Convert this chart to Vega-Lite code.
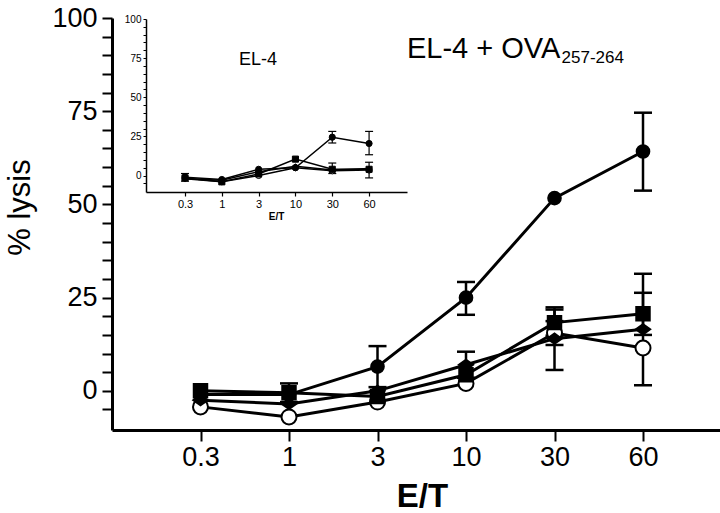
{
  "$schema": "https://vega.github.io/schema/vega-lite/v6.json",
  "width": 608,
  "height": 412,
  "autosize": {"type": "none"},
  "padding": {"left": 112, "top": 18, "right": 0, "bottom": 83},
  "background": "white",
  "config": {
    "view": {"stroke": null},
    "font": "Liberation Sans",
    "axis": {"grid": false, "domainColor": "black", "tickColor": "black", "labelColor": "black", "titleColor": "black", "labelFont": "Liberation Sans", "titleFont": "Liberation Sans", "labelOverlap": false, "labelFlush": false}
  },
  "datasets": {
    "main": [
      {"series": "D", "et": "0.3", "idx": 0, "lysis": -4.3, "lo": null, "hi": null},
      {"series": "D", "et": "1", "idx": 1, "lysis": -7, "lo": null, "hi": null},
      {"series": "D", "et": "3", "idx": 2, "lysis": -3, "lo": null, "hi": null},
      {"series": "D", "et": "10", "idx": 3, "lysis": 2, "lo": null, "hi": null},
      {"series": "D", "et": "30", "idx": 4, "lysis": 15.5, "lo": 12.3, "hi": 18.7},
      {"series": "D", "et": "60", "idx": 5, "lysis": 11.5, "lo": null, "hi": null},
      {"series": "C", "et": "0.3", "idx": 0, "lysis": -2.5, "lo": null, "hi": null},
      {"series": "C", "et": "1", "idx": 1, "lysis": -3.5, "lo": null, "hi": null},
      {"series": "C", "et": "3", "idx": 2, "lysis": 0, "lo": null, "hi": null},
      {"series": "C", "et": "10", "idx": 3, "lysis": 7, "lo": 3.5, "hi": 10.5},
      {"series": "C", "et": "30", "idx": 4, "lysis": 14, "lo": 5.6, "hi": 22.4},
      {"series": "C", "et": "60", "idx": 5, "lysis": 16.5, "lo": 1.5, "hi": 31.4},
      {"series": "A", "et": "0.3", "idx": 0, "lysis": -1, "lo": null, "hi": null},
      {"series": "A", "et": "1", "idx": 1, "lysis": -1, "lo": null, "hi": null},
      {"series": "A", "et": "3", "idx": 2, "lysis": 6.5, "lo": 1, "hi": 12},
      {"series": "A", "et": "10", "idx": 3, "lysis": 25, "lo": 20.4, "hi": 29.2},
      {"series": "A", "et": "30", "idx": 4, "lysis": 51.7, "lo": null, "hi": null},
      {"series": "A", "et": "60", "idx": 5, "lysis": 64.2, "lo": 53.7, "hi": 74.6},
      {"series": "B", "et": "0.3", "idx": 0, "lysis": 0, "lo": null, "hi": null},
      {"series": "B", "et": "1", "idx": 1, "lysis": -0.5, "lo": -3, "hi": 2},
      {"series": "B", "et": "3", "idx": 2, "lysis": -1.5, "lo": null, "hi": null},
      {"series": "B", "et": "10", "idx": 3, "lysis": 4.3, "lo": null, "hi": null},
      {"series": "B", "et": "30", "idx": 4, "lysis": 18.3, "lo": 14.8, "hi": 21.8},
      {"series": "B", "et": "60", "idx": 5, "lysis": 20.7, "lo": 15, "hi": 26.3}
    ],
    "inset": [
      {"series": "D", "et": "0.3", "idx": 0, "lysis": -2, "lo": null, "hi": null},
      {"series": "D", "et": "1", "idx": 1, "lysis": -4, "lo": null, "hi": null},
      {"series": "D", "et": "3", "idx": 2, "lysis": 0, "lo": null, "hi": null},
      {"series": "D", "et": "10", "idx": 3, "lysis": 5, "lo": null, "hi": null},
      {"series": "D", "et": "30", "idx": 4, "lysis": 3, "lo": null, "hi": null},
      {"series": "D", "et": "60", "idx": 5, "lysis": 3.5, "lo": null, "hi": null},
      {"series": "C", "et": "0.3", "idx": 0, "lysis": -2, "lo": null, "hi": null},
      {"series": "C", "et": "1", "idx": 1, "lysis": -3, "lo": null, "hi": null},
      {"series": "C", "et": "3", "idx": 2, "lysis": 2.5, "lo": null, "hi": null},
      {"series": "C", "et": "10", "idx": 3, "lysis": 6, "lo": null, "hi": null},
      {"series": "C", "et": "30", "idx": 4, "lysis": 3.5, "lo": null, "hi": null},
      {"series": "C", "et": "60", "idx": 5, "lysis": 4.5, "lo": null, "hi": null},
      {"series": "A", "et": "0.3", "idx": 0, "lysis": -1, "lo": -3.6, "hi": 1.3},
      {"series": "A", "et": "1", "idx": 1, "lysis": -2.5, "lo": null, "hi": null},
      {"series": "A", "et": "3", "idx": 2, "lysis": 4, "lo": null, "hi": null},
      {"series": "A", "et": "10", "idx": 3, "lysis": 5, "lo": null, "hi": null},
      {"series": "A", "et": "30", "idx": 4, "lysis": 24.5, "lo": 20.8, "hi": 28.2},
      {"series": "A", "et": "60", "idx": 5, "lysis": 20.5, "lo": 13.3, "hi": 28.2},
      {"series": "B", "et": "0.3", "idx": 0, "lysis": -1.5, "lo": null, "hi": null},
      {"series": "B", "et": "1", "idx": 1, "lysis": -4, "lo": null, "hi": null},
      {"series": "B", "et": "3", "idx": 2, "lysis": 1, "lo": null, "hi": null},
      {"series": "B", "et": "10", "idx": 3, "lysis": 10.5, "lo": null, "hi": null},
      {"series": "B", "et": "30", "idx": 4, "lysis": 4, "lo": 1.3, "hi": 8},
      {"series": "B", "et": "60", "idx": 5, "lysis": 4, "lo": -1.5, "hi": 8.5}
    ]
  },
  "layer": [
    {
      "data": {"name": "main"},
      "encoding": {
        "x": {
          "field": "idx", "type": "quantitative",
          "scale": {"domain": [-1, 5.87], "nice": false, "zero": false},
          "axis": {
            "orient": "bottom",
            "values": [0, 1, 2, 3, 4, 5],
            "labelExpr": "['0.3','1','3','10','30','60'][datum.value]",
            "title": "E/T", "titleFontSize": 33, "titleFontWeight": "bold",
            "titleX": 310, "titleY": 76, "titleBaseline": "alphabetic", "titleAlign": "center",
            "labelFontSize": 27, "labelPadding": 3, "tickSize": 11, "tickWidth": 2, "domainWidth": 3
          }
        },
        "y": {
          "field": "lysis", "type": "quantitative",
          "scale": {"domain": [-10.5, 100], "nice": false, "zero": false},
          "axis": {
            "orient": "left",
            "values": [-5, 0, 5, 10, 15, 20, 25, 30, 35, 40, 45, 50, 55, 60, 65, 70, 75, 80, 85, 90, 95, 100],
            "labelExpr": "datum.value % 25 == 0 ? datum.label : ''",
            "title": "% lysis", "titleFontSize": 31, "titleFontWeight": "normal",
            "titleAngle": 270, "titleX": -83, "titleY": 189, "titleAlign": "center", "titleBaseline": "alphabetic",
            "labelFontSize": 27, "labelPadding": 5, "tickSize": 10, "tickWidth": 2, "domainWidth": 3
          }
        }
      },
      "layer": [
        {
          "mark": {"type": "line", "color": "black"},
          "encoding": {
            "detail": {"field": "series", "type": "nominal"},
            "strokeWidth": {"field": "series", "type": "nominal", "scale": {"domain": ["A", "B", "C", "D"], "range": [3, 3, 1.5, 1.5]}, "legend": null}
          }
        },
        {
          "transform": [{"filter": "isValid(datum.lo)"}],
          "mark": {"type": "rule", "color": "black", "strokeWidth": 2.5},
          "encoding": {
            "y": {"field": "lo", "type": "quantitative"},
            "y2": {"field": "hi"}
          }
        },
        {
          "transform": [{"filter": "isValid(datum.lo)"}],
          "mark": {"type": "rule", "color": "black", "strokeWidth": 2.5, "xOffset": -9, "x2Offset": 9},
          "encoding": {
            "x2": {"field": "idx"},
            "y": {"field": "lo", "type": "quantitative"}
          }
        },
        {
          "transform": [{"filter": "isValid(datum.hi)"}],
          "mark": {"type": "rule", "color": "black", "strokeWidth": 2.5, "xOffset": -9, "x2Offset": 9},
          "encoding": {
            "x2": {"field": "idx"},
            "y": {"field": "hi", "type": "quantitative"}
          }
        },
        {
          "mark": {"type": "point", "filled": true, "stroke": "black", "strokeWidth": 2, "opacity": 1},
          "encoding": {
            "shape": {"field": "series", "type": "nominal", "scale": {"domain": ["A", "B", "C", "D"], "range": ["circle", "square", "M-1,0L0,-0.72L1,0L0,0.72Z", "circle"]}, "legend": null},
            "fill": {"field": "series", "type": "nominal", "scale": {"domain": ["A", "B", "C", "D"], "range": ["black", "black", "black", "white"]}, "legend": null},
            "size": {"field": "series", "type": "nominal", "scale": {"domain": ["A", "B", "C", "D"], "range": [160, 225, 250, 177]}, "legend": null}
          }
        },
        {
          "data": {"values": [{"idx": 2.333, "lysis": 89.3, "t": "EL-4 + OVA"}]},
          "mark": {"type": "text", "align": "left", "baseline": "alphabetic", "fontSize": 29, "font": "Liberation Sans", "color": "black"},
          "encoding": {"text": {"field": "t"}}
        },
        {
          "data": {"values": [{"idx": 4.08, "lysis": 87.93, "t": "257-264"}]},
          "mark": {"type": "text", "align": "left", "baseline": "alphabetic", "fontSize": 17, "font": "Liberation Sans", "color": "black"},
          "encoding": {"text": {"field": "t"}}
        }
      ]
    },
    {
      "data": {"name": "inset"},
      "encoding": {
        "x": {
          "field": "idx", "type": "quantitative",
          "scale": {"domain": [-1.06, 6.03], "range": [34, 295], "nice": false, "zero": false},
          "axis": {
            "orient": "bottom", "offset": -238,
            "values": [0, 1, 2, 3, 4, 5],
            "labelExpr": "['0.3','1','3','10','30','60'][datum.value]",
            "title": "E/T", "titleFontSize": 10, "titleFontWeight": "bold",
            "titleX": 164, "titleY": 27, "titleBaseline": "alphabetic", "titleAlign": "center",
            "labelFontSize": 11, "labelPadding": 2, "tickSize": 4, "tickWidth": 1.2, "domainWidth": 1.5
          }
        },
        "y": {
          "field": "lysis", "type": "quantitative",
          "scale": {"domain": [-10.5, 100], "range": [174, 1], "nice": false, "zero": false},
          "axis": {
            "orient": "left", "offset": -34,
            "values": [-5, 0, 5, 10, 15, 20, 25, 30, 35, 40, 45, 50, 55, 60, 65, 70, 75, 80, 85, 90, 95, 100],
            "labelExpr": "datum.value % 25 == 0 ? datum.label : ''",
            "title": null,
            "labelFontSize": 10, "labelPadding": 2, "tickSize": 3, "tickWidth": 1, "domainWidth": 1.5
          }
        }
      },
      "layer": [
        {
          "mark": {"type": "line", "color": "black"},
          "encoding": {
            "detail": {"field": "series", "type": "nominal"},
            "strokeWidth": {"field": "series", "type": "nominal", "scale": {"domain": ["A", "B", "C", "D"], "range": [1.5, 1.5, 1, 1]}, "legend": null}
          }
        },
        {
          "transform": [{"filter": "isValid(datum.lo)"}],
          "mark": {"type": "rule", "color": "black", "strokeWidth": 1.2},
          "encoding": {
            "y": {"field": "lo", "type": "quantitative"},
            "y2": {"field": "hi"}
          }
        },
        {
          "transform": [{"filter": "isValid(datum.lo)"}],
          "mark": {"type": "rule", "color": "black", "strokeWidth": 1.2, "xOffset": -4, "x2Offset": 4},
          "encoding": {
            "x2": {"field": "idx"},
            "y": {"field": "lo", "type": "quantitative"}
          }
        },
        {
          "transform": [{"filter": "isValid(datum.hi)"}],
          "mark": {"type": "rule", "color": "black", "strokeWidth": 1.2, "xOffset": -4, "x2Offset": 4},
          "encoding": {
            "x2": {"field": "idx"},
            "y": {"field": "hi", "type": "quantitative"}
          }
        },
        {
          "mark": {"type": "point", "filled": true, "stroke": "black", "strokeWidth": 1, "opacity": 1},
          "encoding": {
            "shape": {"field": "series", "type": "nominal", "scale": {"domain": ["A", "B", "C", "D"], "range": ["circle", "square", "M-1,0L0,-0.72L1,0L0,0.72Z", "circle"]}, "legend": null},
            "fill": {"field": "series", "type": "nominal", "scale": {"domain": ["A", "B", "C", "D"], "range": ["black", "black", "black", "white"]}, "legend": null},
            "size": {"field": "series", "type": "nominal", "scale": {"domain": ["A", "B", "C", "D"], "range": [38, 36, 40, 34]}, "legend": null}
          }
        },
        {
          "data": {"values": [{"idx": 1.98, "lysis": 70.6, "t": "EL-4"}]},
          "mark": {"type": "text", "align": "center", "baseline": "alphabetic", "fontSize": 18, "font": "Liberation Sans", "color": "black"},
          "encoding": {"text": {"field": "t"}}
        }
      ]
    }
  ],
  "resolve": {"scale": {"x": "independent", "y": "independent", "size": "independent", "strokeWidth": "independent", "shape": "independent", "fill": "independent"}}
}
